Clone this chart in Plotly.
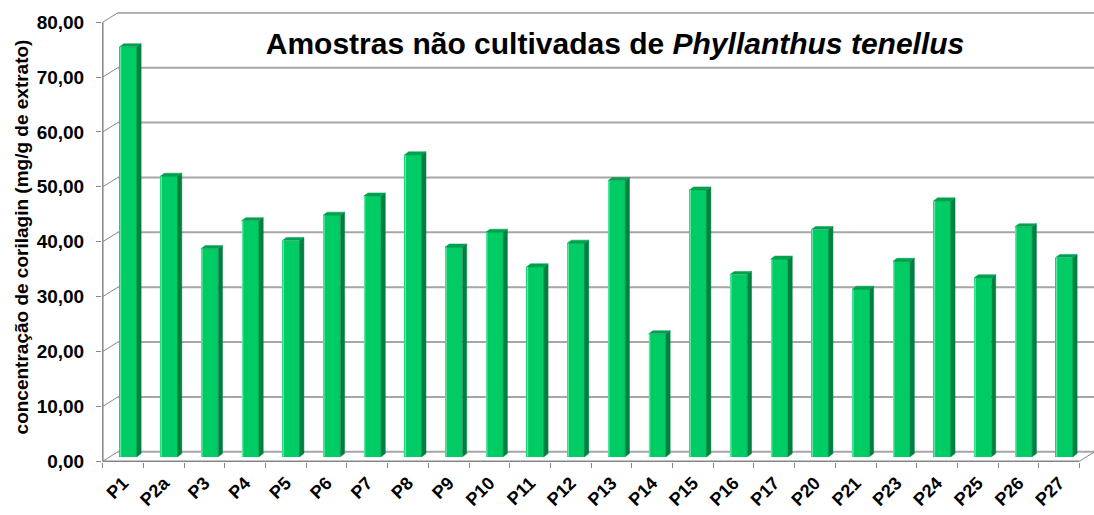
import plotly.graph_objects as go

# Amostras e concentrações de corilagina (mg/g de extrato)
amostras = ["P1", "P2a", "P3", "P4", "P5", "P6", "P7", "P8", "P9", "P10", "P11", "P12",
            "P13", "P14", "P15", "P16", "P17", "P20", "P21", "P23", "P24", "P25", "P26", "P27"]
corilagina = [74.7, 51.1, 37.9, 43.0, 39.4, 44.0, 47.5, 55.0, 38.2, 40.9, 34.6, 38.9,
              50.3, 22.4, 48.6, 33.2, 36.0, 41.4, 30.5, 35.6, 46.6, 32.6, 41.9, 36.3]
escala_y = [0, 10, 20, 30, 40, 50, 60, 70, 80]

# oblique "3-D" offsets, in axis units
PROF_X, PROF_Y = 0.368, 1.7     # back wall relative to the front axes
BAR_X, BAR_Y = 0.123, 0.8       # front face of each column
LARG = 0.427                    # column width
LADO_X, LADO_Y = 0.105, 0.58    # visible depth of each column

VERDE = "#00cc66"
VERDE_LADO = "#008040"
VERDE_TOPO = "#00a050"
VERDE_LUZ = "#5ee6a0"
CINZA = "#a6a6a6"
CINZA_EIXO = "#868686"

n = len(amostras)
pos = list(range(n))
x_min, x_max = -0.52, n - 0.5 + 0.356
y_min, y_max = -0.15, escala_y[-1] + PROF_Y + 0.15

fig = go.Figure()

# front faces
fig.add_trace(go.Bar(
    x=[i + BAR_X for i in pos], y=corilagina, base=BAR_Y, width=LARG,
    marker=dict(color=VERDE, line=dict(width=0)), hoverinfo="skip", showlegend=False,
))

# side and top faces of each column
lado_x, lado_y, topo_x, topo_y, luz_x, luz_y = [], [], [], [], [], []
for i, v in zip(pos, corilagina):
    xl = i + BAR_X - LARG / 2
    xr = i + BAR_X + LARG / 2
    b, t = BAR_Y, v + BAR_Y
    lado_x += [xr, xr + LADO_X, xr + LADO_X, xr, xr, None]
    lado_y += [b, b + LADO_Y, t + LADO_Y, t, b, None]
    topo_x += [xl, xl + LADO_X, xr + LADO_X, xr, xl, None]
    topo_y += [t, t + LADO_Y, t + LADO_Y, t, t, None]
    luz_x += [xl + 0.025, xl + 0.025, None]
    luz_y += [b, t, None]

fig.add_trace(go.Scatter(x=lado_x, y=lado_y, mode="lines", fill="toself",
                         fillcolor=VERDE_LADO, line=dict(color=VERDE_LADO, width=0.5),
                         hoverinfo="skip", showlegend=False))
fig.add_trace(go.Scatter(x=topo_x, y=topo_y, mode="lines", fill="toself",
                         fillcolor=VERDE_TOPO, line=dict(color=VERDE_TOPO, width=0.5),
                         hoverinfo="skip", showlegend=False))
fig.add_trace(go.Scatter(x=luz_x, y=luz_y, mode="lines",
                         line=dict(color=VERDE_LUZ, width=1.5),
                         hoverinfo="skip", showlegend=False))

# back wall gridlines, floor and side-wall edges
shapes = []
for v in escala_y:
    shapes.append(dict(type="line", xref="x", yref="y", layer="below",
                       x0=-0.5 + PROF_X, x1=x_max, y0=v + PROF_Y, y1=v + PROF_Y,
                       line=dict(color=CINZA, width=2)))
    shapes.append(dict(type="line", xref="x", yref="y", layer="below",
                       x0=-0.5, x1=-0.5 + PROF_X, y0=v, y1=v + PROF_Y,
                       line=dict(color=CINZA_EIXO, width=1)))
# front axes
shapes.append(dict(type="line", xref="x", yref="y", layer="below",
                   x0=-0.5, x1=-0.5, y0=0, y1=escala_y[-1],
                   line=dict(color=CINZA_EIXO, width=1.5)))
shapes.append(dict(type="line", xref="x", yref="y", layer="below",
                   x0=-0.5, x1=n - 0.5, y0=0, y1=0,
                   line=dict(color=CINZA_EIXO, width=1.5)))
shapes.append(dict(type="line", xref="x", yref="y", layer="below",
                   x0=n - 0.5, x1=n - 0.5 + PROF_X, y0=0, y1=PROF_Y,
                   line=dict(color=CINZA_EIXO, width=1)))

fig.update_layout(
    width=1094, height=515,
    margin=dict(l=101.9, r=0, t=11.5, b=52.9, pad=0, autoexpand=False),
    paper_bgcolor="white", plot_bgcolor="white",
    separators=",.",
    showlegend=False,
    shapes=shapes,
    font=dict(family="Liberation Sans, Arial, sans-serif", color="black"),
    title=dict(
        text="<b>Amostras não cultivadas de <i>Phyllanthus tenellus</i></b>",
        font=dict(size=30, color="black"),
        x=615 / 1094, xanchor="center", xref="container",
        y=1 - 43 / 515, yanchor="middle", yref="container",
    ),
    xaxis=dict(
        range=[x_min, x_max], showgrid=False, zeroline=False, showline=False,
        automargin=False,
        tickmode="array", tickvals=pos, ticktext=amostras,
        ticks="", tickangle=-45,
        tickfont=dict(size=18, weight="bold"),
        ticklabelstandoff=6,
        minor=dict(tickmode="array", tickvals=[i - 0.5 for i in range(n + 1)],
                   ticks="outside", ticklen=5, tickcolor=CINZA_EIXO, tickwidth=1,
                   showgrid=False),
    ),
    yaxis=dict(
        range=[y_min, y_max], showgrid=False, zeroline=False, showline=False,
        automargin=False,
        tickmode="array", tickvals=escala_y, tickformat=".2f",
        ticks="outside", ticklen=5, tickcolor=CINZA_EIXO, tickwidth=1,
        tickfont=dict(size=19, weight="bold"),
        ticklabelstandoff=8,
        title=dict(text="concentração de corilagin (mg/g de extrato)",
                   font=dict(size=19, weight="bold"), standoff=3),
    ),
    bargap=0,
)

fig.write_html("out.html")
